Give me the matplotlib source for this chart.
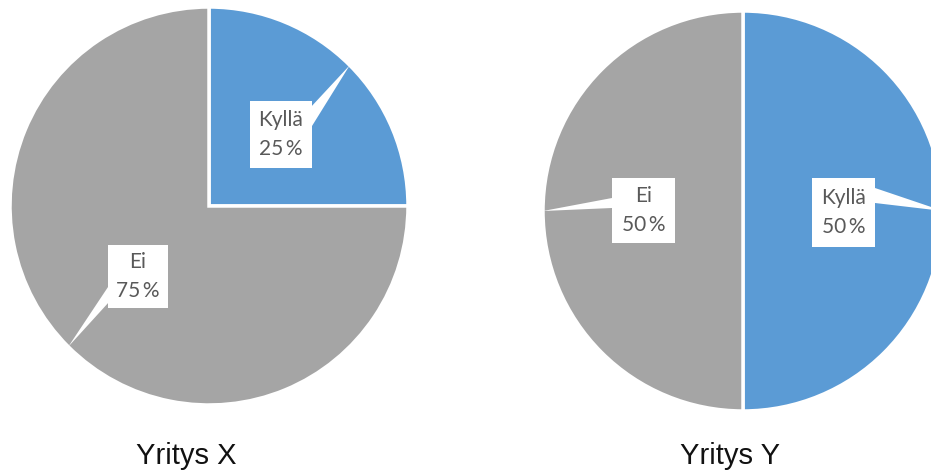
import numpy as np
import matplotlib.pyplot as plt
from matplotlib.patches import Rectangle, Polygon

# Answers per company
labels = ["Kyllä", "Ei"]
company_x = [25, 75]
company_y = [50, 50]
titles = ["Yritys X", "Yritys Y"]
colors = ["#5B9BD5", "#A5A5A5"]

W, H = 931, 472


def flip(y):
    # work in pixel-like units with origin at the top
    return H - y


fig = plt.figure(figsize=(W / 100, H / 100), dpi=100)
ax = fig.add_axes([0, 0, 1, 1])

pies = [
    # center (px), radius, title position, callout boxes (x0, y0, w, h) and pointer base points
    dict(values=company_x, center=(209, 206), radius=199, title=(186, 456),
         boxes=[(250, 101, 62, 67), (108, 245, 60, 63)],
         bases=[[(310, 108), (312, 126)], [(108, 287), (109, 302)]]),
    dict(values=company_y, center=(743, 211), radius=200, title=(730, 456),
         boxes=[(812, 178, 63, 69), (612, 178, 63, 65)],
         bases=[[(875, 188), (875, 203)], [(612, 198), (612, 208)]]),
]

for p, title in zip(pies, titles):
    cx, cy = p["center"]
    wedges, _ = ax.pie(p["values"], colors=colors, startangle=90, counterclock=False,
                       center=(cx, flip(cy)), radius=p["radius"],
                       wedgeprops=dict(edgecolor="white", linewidth=2.5))
    for w, lab, val, box, base in zip(wedges, labels, p["values"], p["boxes"], p["bases"]):
        mid = np.deg2rad((w.theta1 + w.theta2) / 2)
        tip = (cx + p["radius"] * np.cos(mid), flip(cy) + p["radius"] * np.sin(mid))
        pts = [(base[0][0], flip(base[0][1])), tip, (base[1][0], flip(base[1][1]))]
        ax.add_patch(Polygon(pts, closed=True, facecolor="white", edgecolor="none", zorder=3))
        x0, y0, bw, bh = box
        ax.add_patch(Rectangle((x0, flip(y0 + bh)), bw, bh, facecolor="white",
                               edgecolor="none", zorder=4))
        ax.text(x0 + bw / 2, flip(y0 + bh / 2), f"{lab}\n{val}\u2009%", ha="center", va="center",
                fontsize=15, family="Lato", color="#595959", linespacing=1.6, zorder=5)
    tx, ty = p["title"]
    ax.text(tx, flip(ty), title, ha="center", va="center", fontsize=21,
            family="Liberation Sans", color="#111111")

ax.set_xlim(0, W)
ax.set_ylim(0, H)
ax.set_aspect("auto")
ax.axis("off")

fig.savefig("out.png", dpi=100)
